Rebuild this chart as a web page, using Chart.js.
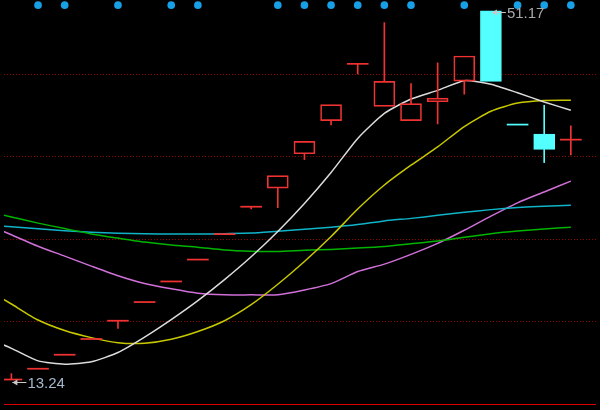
<!DOCTYPE html>
<html><head><meta charset="utf-8">
<script src="https://cdn.jsdelivr.net/npm/chart.js@4/dist/chart.umd.min.js"></script>
<style>html,body{margin:0;padding:0;background:#000;overflow:hidden}canvas{display:block}</style>
</head><body>
<canvas id="c" width="600" height="410"></canvas>
<script>
// ---- data ----
const openP  = [13.24,14.35,15.79,17.41,19.29,21.21,23.33,25.58,28.20,31.02,32.94,36.47,39.87,45.72,41.35,39.87,41.82,43.94,51.17,39.47,38.49,37.92];
const closeP = [13.24,14.35,15.79,17.41,19.29,21.21,23.33,25.58,28.20,31.02,34.22,37.75,41.52,45.72,43.91,41.62,42.19,46.53,43.91,39.47,36.92,37.92];
const highP  = [13.85,14.35,15.79,17.41,19.29,21.21,23.33,25.58,28.20,31.02,34.22,37.75,41.52,45.72,49.96,43.70,45.82,46.53,51.17,39.47,41.46,39.34];
const lowP   = [13.24,14.35,15.79,17.41,18.49,21.21,23.33,25.58,28.20,30.79,30.92,35.87,39.44,44.68,41.35,39.87,39.54,42.60,43.91,39.47,35.56,36.34];
// moving-average lines, first value belongs to the bar just left of the view
const maWhite  = [17.60,16.45,15.16,14.82,15.06,16.02,17.61,19.41,21.36,23.52,25.87,28.47,31.35,34.54,38.05,40.62,42.10,42.99,43.99,43.63,42.74,41.80,40.95];
const maYellow = [22.66,21.01,19.36,18.28,17.55,17.02,16.97,17.38,18.18,19.29,20.94,23.04,25.38,27.95,30.78,33.25,35.29,37.17,39.27,40.84,41.68,41.95,41.97];
const maGreen  = [30.58,29.96,29.33,28.77,28.22,27.79,27.38,27.07,26.85,26.57,26.45,26.42,26.54,26.62,26.76,26.93,27.20,27.48,27.89,28.25,28.52,28.73,28.91];
const maCyan   = [29.17,28.96,28.74,28.54,28.39,28.29,28.23,28.21,28.20,28.25,28.31,28.50,28.69,28.90,29.18,29.56,29.82,30.13,30.44,30.72,30.94,31.08,31.17];
const maViolet = [29.32,28.13,26.95,25.94,24.91,23.92,23.12,22.57,22.12,21.95,21.95,21.95,22.45,23.11,24.35,25.11,26.12,27.25,28.60,30.05,31.42,32.54,33.65];
const signalIdx = [1,2,4,6,7,10,11,12,13,14,15,17,19,20,21];
const gridLevels = [44.66,36.19,27.72,19.24];
const baseLevel = 10.77;
const yMin = 10.516, yMax = 51.876;

// ---- derived tables ----
const N = openP.length;
const RED = '#f03232', CYAN = '#54ffff';
const isUp = openP.map((o,i)=> closeP[i] > o ? true : closeP[i] < o ? false : (i===0 || closeP[i] >= closeP[i-1]));
const isFlat = openP.map((o,i)=> Math.abs(closeP[i]-o) < 0.005);
const colr = isUp.map(u => u ? RED : CYAN);
const body = openP.map((o,i)=>{
  const c = closeP[i];
  if (isFlat[i]) return {x:i, y:[o-0.055, o+0.055]};
  return {x:i, y:[Math.min(o,c), Math.max(o,c)]};
});
const upperWick = openP.map((o,i)=>{
  const t = Math.max(o, closeP[i]);
  return highP[i] > t + 0.001 ? {x:i, y:[t, highP[i]]} : {x:i, y:null};
});
const lowerWick = openP.map((o,i)=>{
  const b = Math.min(o, closeP[i]);
  return lowP[i] < b - 0.001 ? {x:i, y:[lowP[i], b]} : {x:i, y:null};
});
const maPts = arr => arr.map((v,k)=>({x:k-1, y:v}));
const lineDs = (arr, color) => ({type:'line', data: maPts(arr), borderColor: color, borderWidth: 1.5,
  pointRadius: 0, tension: 0.2, fill: false, order: 2});

const gridPlugin = {
  id: 'grid',
  beforeDatasetsDraw(chart){
    const {ctx, chartArea:a, scales:{y}} = chart;
    ctx.save();
    ctx.strokeStyle = '#900000'; ctx.lineWidth = 1; ctx.setLineDash([1,2]);
    gridLevels.forEach(v=>{
      const py = Math.round(y.getPixelForValue(v)) + 0.5;
      ctx.beginPath(); ctx.moveTo(a.left, py); ctx.lineTo(a.right, py); ctx.stroke();
    });
    ctx.setLineDash([]);
    ctx.strokeStyle = '#d80000';
    const pb = Math.round(y.getPixelForValue(baseLevel)) + 0.5;
    ctx.beginPath(); ctx.moveTo(a.left, pb); ctx.lineTo(a.right, pb); ctx.stroke();
    ctx.restore();
  }
};
const labelPlugin = {
  id: 'hl',
  afterDatasetsDraw(chart){
    const {ctx, scales:{x,y}} = chart;
    let hi = 0, lo = 0;
    for (let i=1;i<N;i++){ if (highP[i] > highP[hi]) hi = i; if (lowP[i] < lowP[lo]) lo = i; }
    const draw = (i, v, dy, txtColor) => {
      const px = x.getPixelForValue(i), py = Math.round(y.getPixelForValue(v)) + dy + 0.5;
      ctx.save();
      ctx.strokeStyle = '#c8c8c8'; ctx.fillStyle = '#c8c8c8'; ctx.lineWidth = 1;
      ctx.beginPath(); ctx.moveTo(px+1, py); ctx.lineTo(px+15, py); ctx.stroke();
      ctx.beginPath(); ctx.moveTo(px+1, py); ctx.lineTo(px+6, py-3); ctx.lineTo(px+6, py+3); ctx.closePath(); ctx.fill();
      ctx.fillStyle = txtColor;
      ctx.font = '15px "Liberation Sans", Arial, sans-serif';
      ctx.textBaseline = 'middle'; ctx.textAlign = 'left';
      ctx.fillText(v.toFixed(2), px+16, py+1);
      ctx.restore();
    };
    draw(hi, highP[hi], 1, '#a8a8a8');
    draw(lo, lowP[lo], 2, '#a6b8cc');
  }
};

const xMin = -7.5/27, xMax = xMin + 600/27;
new Chart(document.getElementById('c'), {
  type: 'bar',
  data: {
    datasets: [
      {type:'bar', data: body, backgroundColor: openP.map((o,i)=> isFlat[i] ? colr[i] : (isUp[i] ? 'rgba(0,0,0,0)' : CYAN)),
        borderColor: colr, borderWidth: openP.map((o,i)=> isFlat[i] ? 0 : 1), borderSkipped: false,
        barThickness: 21, grouped: false, order: 0},
      {type:'bar', data: upperWick, backgroundColor: colr, borderWidth: 0, barThickness: 1, grouped: false, order: 1},
      {type:'bar', data: lowerWick, backgroundColor: colr, borderWidth: 0, barThickness: 1, grouped: false, order: 1},
      lineDs(maWhite, '#dcdcdc'),
      lineDs(maYellow, '#c8c800'),
      lineDs(maGreen, '#00b400'),
      lineDs(maCyan, '#10b4c8'),
      lineDs(maViolet, '#d070d8'),
      {type:'line', data: signalIdx.map(i=>({x:i, y: yMax - 0.12})), showLine: false, clip: false,
        pointRadius: 3.8, pointStyle: 'circle', pointBackgroundColor: '#18a0e6', pointBorderWidth: 0, order: 0}
    ]
  },
  options: {
    responsive: false, animation: false, devicePixelRatio: 1,
    events: [],
    layout: {padding: 0},
    plugins: {legend: {display: false}, tooltip: {enabled: false}},
    scales: {
      x: {type: 'linear', min: xMin, max: xMax, offset: false, display: false},
      y: {min: yMin, max: yMax, display: false}
    }
  },
  plugins: [gridPlugin, labelPlugin]
});
</script>
</body></html>
